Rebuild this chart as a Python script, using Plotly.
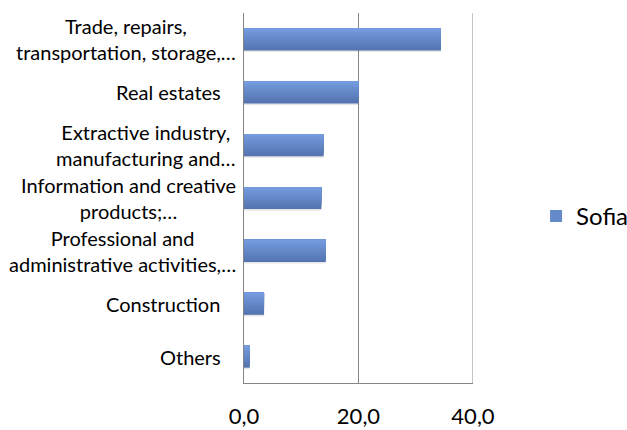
import plotly.graph_objects as go

# Share of Sofia's economy by sector (%)
sectors = [
    "Trade, repairs,<br>transportation, storage,…",
    "Real estates",
    "Extractive industry,<br>manufacturing and…",
    "Information and creative<br>products;…",
    "Professional and<br>administrative activities,…",
    "Construction",
    "Others",
]
sofia = [34.4, 20.0, 13.9, 13.5, 14.3, 3.5, 1.0]
x_ticks = [0, 20, 40]
x_tick_text = ["0,0", "20,0", "40,0"]

# draw bottom-up so the first sector sits at the top
cats = sectors[::-1]
vals = sofia[::-1]

BAR_W = 0.42
N_SLICES = 12
top_rgb = (116, 155, 222)
bot_rgb = (84, 116, 176)
GRID = "#868686"

fig = go.Figure()

# soft drop shadow under each bar
fig.add_trace(go.Bar(
    y=cats, x=vals, orientation="h",
    width=BAR_W, offset=-BAR_W / 2 - 0.03,
    marker=dict(color="rgba(0,0,0,0.10)", line=dict(width=0)),
    showlegend=False, hoverinfo="skip",
))

# vertical gradient: each layer starts a little higher and covers the one below
sw = BAR_W / N_SLICES
for i in range(N_SLICES):
    t = i / (N_SLICES - 1)
    r = round(bot_rgb[0] + (top_rgb[0] - bot_rgb[0]) * t)
    g = round(bot_rgb[1] + (top_rgb[1] - bot_rgb[1]) * t)
    b = round(bot_rgb[2] + (top_rgb[2] - bot_rgb[2]) * t)
    fig.add_trace(go.Bar(
        y=cats, x=vals, orientation="h",
        width=BAR_W - i * sw, offset=-BAR_W / 2 + i * sw,
        marker=dict(color=f"rgb({r},{g},{b})", line=dict(width=0)),
        name="Sofia", showlegend=(i == N_SLICES // 2),
        legendgroup="sofia", hoverinfo="x",
    ))

# gridline at the upper end of the value axis
fig.add_vline(x=x_ticks[-1], line=dict(color=GRID, width=1), layer="below")

# category labels: lines centred, block right-aligned at the axis
for c in cats:
    label = c if "<br>" in c else c + "\u00a0\u00a0\u00a0"
    fig.add_annotation(
        x=0, y=c, xref="x", yref="y", text=label,
        xanchor="right", yanchor="middle", align="center",
        xshift=-6, showarrow=False,
        font=dict(family="Lato", size=20, color="#000000"),
    )

fig.update_layout(
    width=627, height=430,
    margin=dict(l=244, r=154, t=13, b=47, autoexpand=False),
    paper_bgcolor="white", plot_bgcolor="white",
    barmode="overlay",
    showlegend=True,
    legend=dict(
        xref="container", yref="container",
        x=0.855, y=0.497, xanchor="left", yanchor="middle",
        font=dict(family="Lato", size=24, color="#000000"),
        bgcolor="rgba(0,0,0,0)",
    ),
    xaxis=dict(
        range=[0, 40], tickvals=x_ticks, ticktext=x_tick_text,
        showgrid=True, gridcolor=GRID, gridwidth=1,
        showline=True, linecolor=GRID, linewidth=1,
        zeroline=False, ticks="", ticklabelstandoff=14,
        tickfont=dict(family="Lato", size=22, color="#000000"),
        automargin=False, fixedrange=True,
    ),
    yaxis=dict(
        type="category", categoryorder="array", categoryarray=cats,
        range=[-0.5, len(cats) - 0.5],
        showticklabels=False, showgrid=False,
        showline=True, linecolor=GRID, linewidth=1,
        zeroline=False, ticks="",
        automargin=False, fixedrange=True,
    ),
)

fig.write_html("out.html")
